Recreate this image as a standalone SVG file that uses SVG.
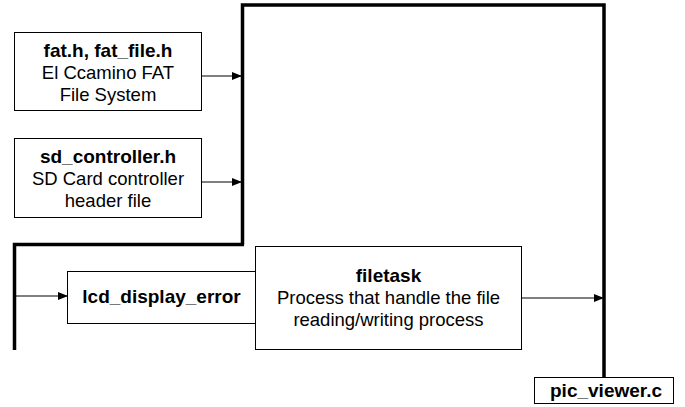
<svg xmlns="http://www.w3.org/2000/svg" width="685" height="407" viewBox="0 0 685 407">
  <style>
    .box { fill: #fff; stroke: #000; stroke-width: 1; }
    .bus { fill: none; stroke: #000; stroke-width: 3.5; stroke-linejoin: miter; }
    .link { fill: none; stroke: #000; stroke-width: 1; }
    text { font-family: "Liberation Sans", Arial, sans-serif; font-size: 18.5px; fill: #000; text-anchor: middle; }
    .b { font-weight: bold; font-size: 19px; }
  </style>
  <defs>
    <marker id="arr" markerWidth="10" markerHeight="8" refX="9" refY="4" orient="auto" markerUnits="userSpaceOnUse">
      <path d="M0,0 L10,4 L0,8 Z" fill="#000"/>
    </marker>
  </defs>

  <rect width="685" height="407" fill="#fff"/>

  <g id="connectors">
    <path class="bus" d="M242.5,244.5 V5 H604 V378"/>
    <path class="bus" d="M244,244.5 H14.5 V350"/>
    <path class="link" d="M202,76 H241" marker-end="url(#arr)"/>
    <path class="link" d="M202,182 H241" marker-end="url(#arr)"/>
    <path class="link" d="M16,296 H67" marker-end="url(#arr)"/>
    <path class="link" d="M522,298 H603" marker-end="url(#arr)"/>
  </g>

  <g id="fat">
    <rect class="box" x="14.5" y="32.5" width="187" height="78"/>
    <text x="108" y="57" class="b">fat.h, fat_file.h</text>
    <text x="108" y="79">El Ccamino FAT</text>
    <text x="108" y="100.5">File System</text>
  </g>

  <g id="sd_controller">
    <rect class="box" x="14.5" y="138.5" width="187" height="79"/>
    <text x="108" y="163" class="b">sd_controller.h</text>
    <text x="108" y="185">SD Card controller</text>
    <text x="108" y="206.5">header file</text>
  </g>

  <g id="lcd_display_error">
    <rect class="box" x="67.5" y="271.5" width="188" height="52"/>
    <text x="161.5" y="302.5" class="b">lcd_display_error</text>
  </g>

  <g id="filetask">
    <rect class="box" x="255.5" y="246.5" width="266" height="103"/>
    <text x="388.5" y="281.5" class="b">filetask</text>
    <text x="388.5" y="304">Process that handle the file</text>
    <text x="388.5" y="326">reading/writing process</text>
  </g>

  <g id="pic_viewer">
    <rect class="box" x="534.5" y="377.5" width="139" height="26"/>
    <text x="606" y="396.5" class="b">pic_viewer.c</text>
  </g>
</svg>
